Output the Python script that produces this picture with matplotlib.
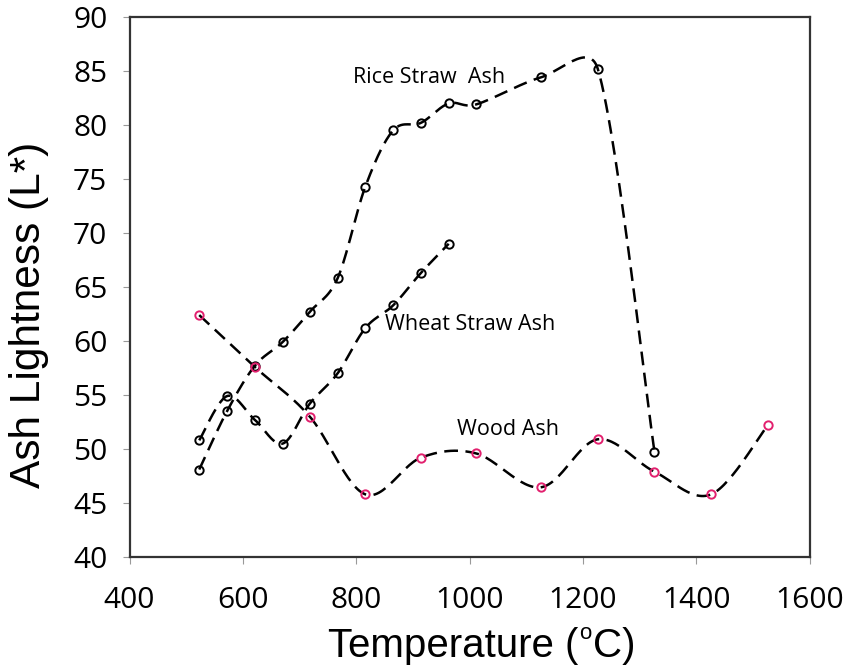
import numpy as np
import matplotlib.pyplot as plt

# Values
rice_t = [523, 572, 621, 670, 718, 767, 816, 865, 914, 963, 1011, 1125, 1226, 1326]
rice_l = [48.1, 53.5, 57.7, 59.9, 62.7, 65.8, 74.3, 79.5, 80.2, 82.0, 81.9, 84.4, 85.2, 49.75]

wheat_t = [523, 572, 621, 670, 718, 767, 816, 865, 914, 963]
wheat_l = [50.8, 54.9, 52.7, 50.5, 54.2, 57.0, 61.2, 63.3, 66.3, 69.0]

wood_t = [523, 621, 718, 816, 914, 1011, 1125, 1226, 1326, 1426, 1526]
wood_l = [62.4, 57.6, 53.0, 45.8, 49.2, 49.6, 46.45, 50.9, 47.9, 45.8, 52.2]

x_ticks = [400, 600, 800, 1000, 1200, 1400, 1600]
y_ticks = [40, 45, 50, 55, 60, 65, 70, 75, 80, 85, 90]

PINK = '#E2206E'
TICK_FONT = 'Open Sans'
LABEL_FONT = 'Liberation Sans'

W, H = 847, 667
fig = plt.figure(figsize=(W / 100, H / 100), dpi=100)
ax = fig.add_axes([0.1529, 0.1649, 0.8032, 0.8096])
ax.set_xlim(400, 1600)
ax.set_ylim(40, 90)


def smooth(ax, xs, ys, steps=30):
    # spreadsheet-like smoothed line: bezier segments built in screen space,
    # handles capped so a steep neighbour does not make a huge overshoot
    pts = ax.transData.transform(np.column_stack([xs, ys]))
    pts = np.vstack([pts[0], pts, pts[-1]])
    out = []
    t = np.linspace(0, 1, steps)[:, None]
    for i in range(1, len(pts) - 2):
        p0, p1, p2, p3 = pts[i - 1], pts[i], pts[i + 1], pts[i + 2]
        seg_len = np.hypot(*(p2 - p1))
        d1 = (p2 - p0) / 6
        d2 = (p3 - p1) / 6
        for d in (d1, d2):
            n = np.hypot(*d)
            if n > 0.5 * seg_len:
                d *= 0.5 * seg_len / n
        c1 = p1 + d1
        c2 = p2 - d2
        seg = ((1 - t) ** 3) * p1 + 3 * ((1 - t) ** 2) * t * c1 + 3 * (1 - t) * t ** 2 * c2 + t ** 3 * p2
        out.append(seg if i == 1 else seg[1:])
    out = np.vstack(out)
    data = ax.transData.inverted().transform(out)
    return data[:, 0], data[:, 1]


for xs, ys, mc in [(rice_t, rice_l, 'black'), (wheat_t, wheat_l, 'black'), (wood_t, wood_l, PINK)]:
    sx, sy = smooth(ax, xs, ys)
    ax.plot(sx, sy, color='black', lw=1.8, dashes=(5.5, 3), zorder=2)
    ax.plot(xs, ys, ls='none', marker='o', ms=6, mfc='none', mec=mc, mew=1.4, zorder=3)

ax.text(929, 84.4, 'Rice Straw  Ash', fontsize=15.5, family=TICK_FONT, ha='center', va='center')
ax.text(1000, 61.5, 'Wheat Straw Ash', fontsize=15.5, family=TICK_FONT, ha='center', va='center')
ax.text(1068, 51.85, 'Wood Ash', fontsize=15.5, family=TICK_FONT, ha='center', va='center')

ax.set_xticks(x_ticks)
ax.set_yticks(y_ticks)
for lab in ax.get_xticklabels() + ax.get_yticklabels():
    lab.set_family(TICK_FONT)
    lab.set_fontsize(21.5)
ax.tick_params(direction='out', length=5, width=0.8, color='#999999')
ax.tick_params(axis='y', pad=11)
ax.tick_params(axis='x', pad=16)

for sp in ax.spines.values():
    sp.set_color('#333333')
    sp.set_linewidth(1.6)

# x label built from pieces so the small raised "o" matches the original
renderer = fig.canvas.get_renderer()
x0 = 328
base = H - 657
t1 = fig.text(x0 / W, base / H, 'Temperature (', family=LABEL_FONT, fontsize=29,
              ha='left', va='baseline')
x1 = t1.get_window_extent(renderer).x1
t2 = fig.text((x1 + 1) / W, (H - 639) / H, 'o', family=LABEL_FONT, fontsize=16,
              ha='left', va='baseline')
x2 = t2.get_window_extent(renderer).x1
fig.text((x2 + 1) / W, base / H, 'C)', family=LABEL_FONT, fontsize=29,
         ha='left', va='baseline')

fig.text(29.5 / W, (H - 314.5) / H, 'Ash Lightness (L*)',
         family=LABEL_FONT, fontsize=30.5, rotation=90, ha='center', va='center')

fig.savefig('out.png', dpi=100)
